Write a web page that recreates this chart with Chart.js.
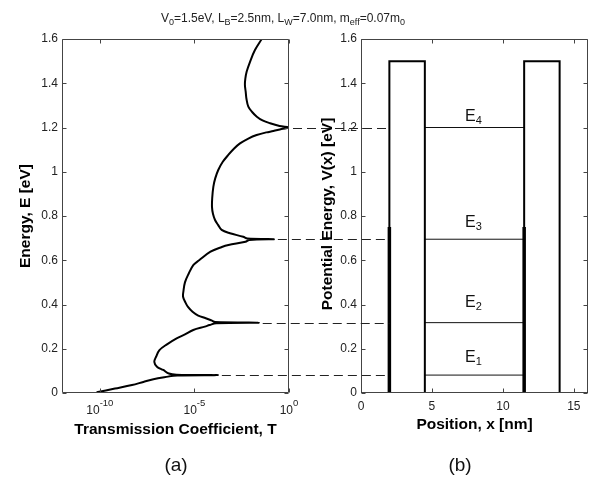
<!DOCTYPE html>
<html>
<head>
<meta charset="utf-8">
<script src="https://cdn.jsdelivr.net/npm/chart.js@4.4.1/dist/chart.umd.min.js"></script>
<style>
  body { margin: 0; background: #fff; }
  #wrap { position: relative; width: 596px; height: 487px; font-family: "Liberation Sans", Arial, sans-serif; }
  #wrap canvas { position: absolute; left: 0; top: 0; }
  .title { position: absolute; top: 11px; left: 0; width: 566px; text-align: center; font-size: 12px; line-height: 14px; color: #222; }
  .title sub { font-size: 9px; }
  .cap { position: absolute; top: 454px; width: 60px; text-align: center; font-size: 19px; color: #111; }
</style>
</head>
<body>
<div id="wrap">
  <canvas id="transChart" width="596" height="487"></canvas>
  <canvas id="potChart" width="596" height="487"></canvas>
  <div class="title">V<sub>0</sub>=1.5eV, L<sub>B</sub>=2.5nm, L<sub>W</sub>=7.0nm, m<sub>eff</sub>=0.07m<sub>0</sub></div>
  <div class="cap" style="left:146px">(a)</div>
  <div class="cap" style="left:430px">(b)</div>
</div>
<script>
// --- data ---

// (a) transmission curve: energy (eV) and log10(T)
const curveE = [0.003, 0.02, 0.036, 0.05, 0.062, 0.074, 0.078, 0.0795, 0.081, 0.0825,
  0.088, 0.104, 0.119, 0.141, 0.165, 0.194, 0.22, 0.247, 0.265, 0.285,
  0.300, 0.307, 0.315, 0.318, 0.321, 0.328, 0.338, 0.35, 0.367, 0.39,
  0.41, 0.435, 0.46, 0.50, 0.54, 0.579, 0.60, 0.639, 0.66, 0.669,
  0.684, 0.692, 0.695, 0.698, 0.706, 0.722, 0.737, 0.76, 0.782, 0.81,
  0.84, 0.88, 0.932, 0.97, 1.008, 1.045, 1.076, 1.105, 1.128, 1.15,
  1.166, 1.178, 1.184, 1.193, 1.20, 1.207, 1.219, 1.232, 1.249, 1.27,
  1.294, 1.33, 1.362, 1.392, 1.42, 1.452, 1.497, 1.55, 1.6];
const curveLogT = [-10.17, -9.2, -8.3, -7.7, -7.17, -6.4, -6.1, -5.9, -3.76, -5.95,
  -6.35, -6.65, -6.98, -7.12, -7.02, -6.85, -6.45, -5.94, -5.5, -5.06,
  -4.45, -4.2, -3.85, -1.6, -3.9, -4.1, -4.4, -4.8, -5.1, -5.35,
  -5.48, -5.6, -5.58, -5.5, -5.3, -5.05, -4.75, -4.15, -3.55, -3.2,
  -2.3, -2.1, -0.8, -2.2, -2.42, -3.12, -3.56, -3.75, -3.91, -4.02,
  -4.07, -4.06, -4.0, -3.9, -3.74, -3.5, -3.21, -2.9, -2.59, -2.15,
  -1.71, -1.2, -0.83, -0.4, 0, -0.5, -1.0, -1.4, -1.7, -1.95,
  -2.15, -2.25, -2.29, -2.33, -2.31, -2.24, -2.06, -1.8, -1.44];

// resonance levels and where the spikes end in (a)
const levelE = [0.081, 0.318, 0.695, 1.20];
const levelPeakLogT = [-3.76, -1.6, -0.8, 0];
const levelNames = ['1', '2', '3', '4'];
const levelLabelE = [0.141, 0.387, 0.752, 1.231];
const levelLabelX = 7.33;

// (b) double barrier potential profile
const potX = [0, 2, 2, 4.5, 4.5, 11.5, 11.5, 14, 14, 16];
const potV = [0, 0, 1.5, 1.5, 0, 0, 1.5, 1.5, 0, 0];
const wellX = [4.5, 11.5];          // levels drawn between inner barrier walls
const wallX = [2, 11.5];            // walls drawn heavier at the bottom
const wallTop = 0.75;
const dashEndX = 2;

// ticks
const energyTicks = [0, 0.2, 0.4, 0.6, 0.8, 1, 1.2, 1.4, 1.6];
const tTicks = [-10, -5, 0];
const posTicks = [0, 5, 10, 15];

const FONT = '"Liberation Sans", Arial, sans-serif';
const TICK = 4;

let transChart;
let potChart;

function fmtE(v) {
    return String(Number(v.toFixed(1)));
}

// box with inward ticks on all four sides + y tick labels (matlab look)
function drawFrame(chart, xVals, yVals) {
    const { ctx, chartArea: a, scales } = chart;
    ctx.save();
    ctx.strokeStyle = '#444';
    ctx.lineWidth = 1;
    ctx.beginPath();
    const l = Math.round(a.left) + 0.5, r = Math.round(a.right) - 0.5;
    const t = Math.round(a.top) + 0.5, b = Math.round(a.bottom) - 0.5;
    ctx.rect(l, t, r - l, b - t);
    xVals.forEach(v => {
        const px = Math.round(scales.x.getPixelForValue(v)) + 0.5;
        ctx.moveTo(px, b); ctx.lineTo(px, b - TICK);
        ctx.moveTo(px, t); ctx.lineTo(px, t + TICK);
    });
    yVals.forEach(v => {
        const py = Math.round(scales.y.getPixelForValue(v)) + 0.5;
        ctx.moveTo(l, py); ctx.lineTo(l + TICK, py);
        ctx.moveTo(r, py); ctx.lineTo(r - TICK, py);
    });
    ctx.stroke();

    ctx.fillStyle = '#222';
    ctx.font = `12px ${FONT}`;
    ctx.textAlign = 'right';
    ctx.textBaseline = 'middle';
    yVals.forEach(v => ctx.fillText(fmtE(v), a.left - 4, scales.y.getPixelForValue(v)));
    ctx.restore();
}

function drawAxisTitles(chart, xTitle, xBase, yTitle, yBase, yMid) {
    const { ctx, chartArea: a } = chart;
    ctx.save();
    ctx.fillStyle = '#000';
    ctx.font = `bold 15.5px ${FONT}`;
    ctx.textAlign = 'center';
    ctx.textBaseline = 'alphabetic';
    ctx.fillText(xTitle, (a.left + a.right) / 2, xBase);
    ctx.translate(yBase, yMid);
    ctx.rotate(-Math.PI / 2);
    ctx.fillText(yTitle, 0, 0);
    ctx.restore();
}

const transFrame = {
    id: 'transFrame',
    afterDraw(chart) {
        const { ctx, chartArea: a, scales } = chart;
        drawFrame(chart, tTicks.map(t => 10 ** t), energyTicks);
        ctx.save();
        ctx.fillStyle = '#222';
        ctx.textAlign = 'left';
        ctx.textBaseline = 'alphabetic';
        tTicks.forEach(t => {
            const px = scales.x.getPixelForValue(10 ** t);
            ctx.font = `12px ${FONT}`;
            const wb = ctx.measureText('10').width;
            ctx.font = `9.5px ${FONT}`;
            const we = ctx.measureText(String(t)).width;
            const x0 = px - (wb + we) / 2;
            ctx.font = `12px ${FONT}`;
            ctx.fillText('10', x0, a.bottom + 21);
            ctx.font = `9.5px ${FONT}`;
            ctx.fillText(String(t), x0 + wb, a.bottom + 13);
        });
        ctx.restore();
        drawAxisTitles(chart, 'Transmission Coefficient, T', 434, 'Energy, E [eV]', 30, 216);
    }
};

const potFrame = {
    id: 'potFrame',
    afterDraw(chart) {
        const { ctx, chartArea: a, scales } = chart;
        drawFrame(chart, posTicks, energyTicks);
        ctx.save();
        ctx.fillStyle = '#222';
        ctx.font = `12px ${FONT}`;
        ctx.textAlign = 'center';
        ctx.textBaseline = 'alphabetic';
        posTicks.forEach(v => ctx.fillText(String(v), scales.x.getPixelForValue(v), a.bottom + 17));

        // E_n labels
        ctx.fillStyle = '#111';
        ctx.textAlign = 'left';
        levelNames.forEach((n, i) => {
            const px = scales.x.getPixelForValue(levelLabelX);
            const py = scales.y.getPixelForValue(levelLabelE[i]);
            ctx.font = `16px ${FONT}`;
            ctx.fillText('E', px, py);
            const w = ctx.measureText('E').width;
            ctx.font = `11px ${FONT}`;
            ctx.fillText(n, px + w, py + 3);
        });

        // dashed guides from the resonance spikes in (a) to the barrier wall in (b)
        if (transChart) {
            ctx.strokeStyle = '#222';
            ctx.lineWidth = 1;
            ctx.setLineDash([9, 5]);
            levelE.forEach((e, i) => {
                const x0 = transChart.scales.x.getPixelForValue(10 ** levelPeakLogT[i]) + 4;
                const x1 = scales.x.getPixelForValue(dashEndX);
                const py = Math.round(scales.y.getPixelForValue(e)) + 0.5;
                ctx.beginPath();
                ctx.moveTo(x0, py);
                ctx.lineTo(x1, py);
                ctx.stroke();
            });
        }
        ctx.restore();
        drawAxisTitles(chart, 'Position, x [nm]', 429, 'Potential Energy, V(x) [eV]', 332, 214);
    }
};

function initTransChart() {
    const ctx = document.getElementById('transChart').getContext('2d');
    transChart = new Chart(ctx, {
        type: 'line',
        data: {
            datasets: [{
                data: curveLogT.map((lt, i) => ({ x: 10 ** lt, y: curveE[i] })),
                borderColor: '#000',
                borderWidth: 2,
                pointRadius: 0,
                tension: 0.35,
                fill: false
            }]
        },
        options: {
            responsive: false,
            animation: false,
            layout: { padding: { left: 62, right: 307, top: 39, bottom: 94 } },
            plugins: { legend: { display: false }, tooltip: { enabled: false } },
            scales: {
                x: { type: 'logarithmic', min: 1e-12, max: 1, display: false },
                y: { type: 'linear', min: 0, max: 1.6, display: false }
            }
        },
        plugins: [transFrame]
    });
}

function initPotChart() {
    const ctx = document.getElementById('potChart').getContext('2d');
    const levelPts = [];
    levelE.forEach(e => {
        levelPts.push({ x: wellX[0], y: e }, { x: wellX[1], y: e }, { x: wellX[1], y: null });
    });
    const wallPts = [];
    wallX.forEach(x => {
        wallPts.push({ x: x, y: 0 }, { x: x, y: wallTop }, { x: x, y: null });
    });
    potChart = new Chart(ctx, {
        type: 'line',
        data: {
            datasets: [{
                data: potX.map((x, i) => ({ x: x, y: potV[i] })),
                borderColor: '#000',
                borderWidth: 2,
                pointRadius: 0,
                tension: 0
            }, {
                data: wallPts,
                borderColor: '#000',
                borderWidth: 3.5,
                pointRadius: 0,
                spanGaps: false
            }, {
                data: levelPts,
                borderColor: '#111',
                borderWidth: 1,
                pointRadius: 0,
                spanGaps: false
            }]
        },
        options: {
            responsive: false,
            animation: false,
            layout: { padding: { left: 361, right: 8, top: 39, bottom: 94 } },
            plugins: { legend: { display: false }, tooltip: { enabled: false } },
            scales: {
                x: { type: 'linear', min: 0, max: 16, display: false },
                y: { type: 'linear', min: 0, max: 1.6, display: false }
            }
        },
        plugins: [potFrame]
    });
}

initTransChart();
initPotChart();
</script>
</body>
</html>
